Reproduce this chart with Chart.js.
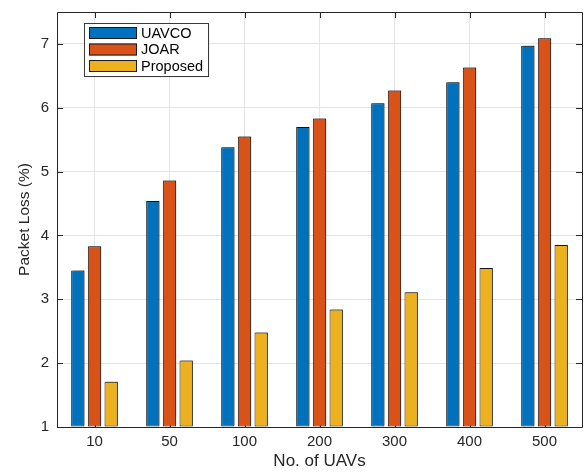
<!DOCTYPE html>
<html>
<head>
<meta charset="utf-8">
<script src="https://cdn.jsdelivr.net/npm/chart.js@4"></script>
<style>
  html, body { margin: 0; padding: 0; background: #fff; }
  #wrap { width: 588px; height: 472px; }
</style>
</head>
<body>
<div id="wrap"><canvas id="c" width="588" height="472"></canvas></div>
<script>
// Packet loss (%) per network size
const categories = ['10', '50', '100', '200', '300', '400', '500'];
const uavco    = [3.45, 4.54, 5.38, 5.70, 6.07, 6.40, 6.97];
const joar     = [3.83, 4.86, 5.55, 5.83, 6.27, 6.63, 7.09];
const proposed = [1.71, 2.04, 2.48, 2.84, 3.11, 3.49, 3.85];
const yTicks   = [1, 2, 3, 4, 5, 6, 7];
const seriesNames = ['UAVCO', 'JOAR', 'Proposed'];

const FONT = "'Liberation Sans', Arial, Helvetica, sans-serif";
const AXIS = '#262626';
const GRID = '#e4e4e4';
const COLORS = ['#0072BD', '#D95319', '#EDB120'];

// Axes box with inward tick marks, then a light drop shadow for the bars
const boxPlugin = {
  id: 'box',
  beforeDatasetsDraw(chart) {
    const { ctx, chartArea: a, scales: { x, y } } = chart;
    ctx.save();
    ctx.strokeStyle = AXIS;
    ctx.lineWidth = 1;
    ctx.beginPath();
    ctx.rect(Math.round(a.left) + 0.5, Math.round(a.top) + 0.5,
             Math.round(a.right - a.left), Math.round(a.bottom - a.top));
    const tl = 6;
    yTicks.forEach(v => {
      const py = Math.round(y.getPixelForValue(v)) + 0.5;
      ctx.moveTo(a.left, py); ctx.lineTo(a.left + tl, py);
      ctx.moveTo(a.right, py); ctx.lineTo(a.right - tl, py);
    });
    categories.forEach((c, i) => {
      const px = Math.round(x.getPixelForValue(i)) + 0.5;
      ctx.moveTo(px, a.top); ctx.lineTo(px, a.top + tl);
      ctx.moveTo(px, a.bottom); ctx.lineTo(px, a.bottom - tl);
    });
    ctx.stroke();
    ctx.restore();
    ctx.save();
    ctx.shadowColor = 'rgba(0,0,0,0.3)';
    ctx.shadowOffsetX = 1.5;
    ctx.shadowOffsetY = -1.5;
    ctx.shadowBlur = 0.5;
  },
  afterDatasetsDraw(chart) {
    chart.ctx.restore();
  }
};

// Legend box in the upper-left corner of the plot
const legendPlugin = {
  id: 'innerLegend',
  afterDraw(chart) {
    const { ctx } = chart;
    const x0 = 84, y0 = 23, w = 124, h = 53;
    ctx.save();
    ctx.shadowColor = 'rgba(0,0,0,0.25)';
    ctx.shadowOffsetX = 1; ctx.shadowOffsetY = 1; ctx.shadowBlur = 1;
    ctx.fillStyle = '#fff';
    ctx.fillRect(x0, y0, w, h);
    ctx.restore();
    ctx.save();
    ctx.strokeStyle = '#3a3a3a';
    ctx.lineWidth = 1;
    ctx.strokeRect(x0 + 0.5, y0 + 0.5, w, h);
    ctx.font = '14.5px ' + FONT;
    ctx.textBaseline = 'middle';
    chart.data.datasets.forEach((ds, i) => {
      const cy = 33 + i * 16.5;
      ctx.fillStyle = ds.backgroundColor;
      ctx.fillRect(89, cy - 6, 48, 12);
      ctx.strokeStyle = '#1a1a1a';
      ctx.strokeRect(89.5, cy - 5.5, 47, 11);
      ctx.fillStyle = '#000';
      ctx.fillText(ds.label, 141, cy + 0.5);
    });
    ctx.restore();
  }
};

const makeSet = (i, data) => ({
  label: seriesNames[i],
  data: data,
  base: 1,
  backgroundColor: COLORS[i],
  borderColor: '#1a1a1a',
  borderWidth: 1,
  borderSkipped: false,
  categoryPercentage: 0.667,
  barPercentage: 0.8
});

new Chart(document.getElementById('c'), {
  type: 'bar',
  data: {
    labels: categories,
    datasets: [makeSet(0, uavco), makeSet(1, joar), makeSet(2, proposed)]
  },
  options: {
    responsive: false,
    animation: false,
    devicePixelRatio: 1,
    layout: { padding: { top: 12, right: 6, bottom: 0, left: 0 } },
    plugins: { legend: { display: false }, tooltip: { enabled: false } },
    scales: {
      x: {
        grid: { color: GRID, offset: false, drawTicks: false },
        border: { display: false },
        ticks: { color: AXIS, font: { family: FONT, size: 15 }, padding: 6 },
        title: {
          display: true, text: 'No. of UAVs', color: AXIS,
          font: { family: FONT, size: 17 }, padding: { top: 0, bottom: 0 }
        },
        afterFit(s) { s.height = 45; s.paddingLeft = 0; s.paddingRight = 0; }
      },
      y: {
        min: 1, max: 7.5,
        afterBuildTicks(s) { s.ticks = yTicks.map(v => ({ value: v })); },
        grid: { color: GRID, drawTicks: false },
        border: { display: false },
        ticks: { color: AXIS, font: { family: FONT, size: 15 }, padding: 8 },
        title: {
          display: true, text: 'Packet Loss (%)', color: AXIS,
          font: { family: FONT, size: 15.5 }, padding: { top: 15, bottom: 0 }
        },
        afterFit(s) { s.width = 57; s.paddingTop = 0; s.paddingBottom = 0; }
      }
    }
  },
  plugins: [boxPlugin, legendPlugin]
});
</script>
</body>
</html>
